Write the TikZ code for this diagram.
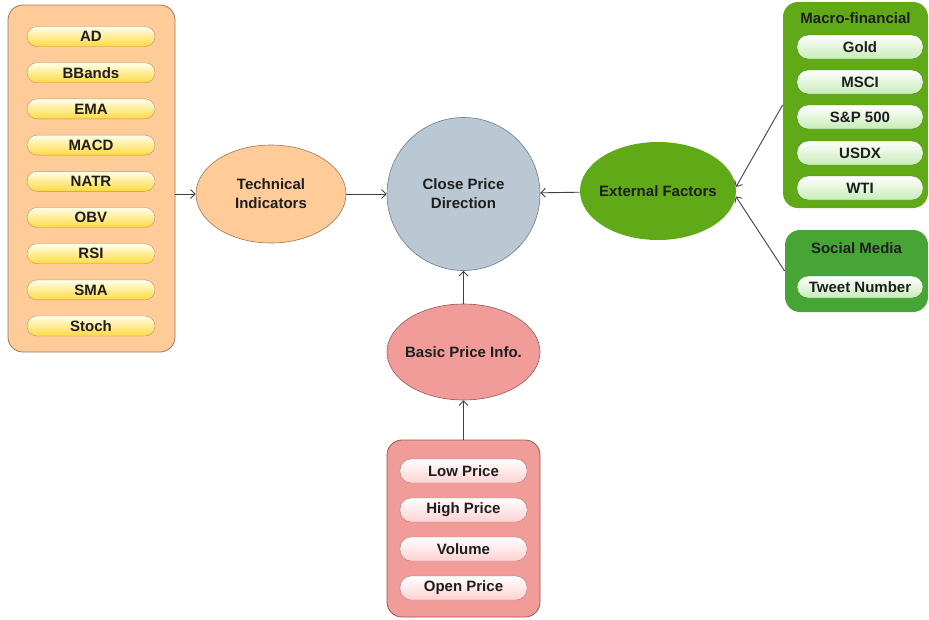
\documentclass[tikz,border=0pt]{standalone}
\usepackage{fontspec}
\setmainfont{Liberation Sans}
\usetikzlibrary{shapes.geometric,arrows.meta}

\definecolor{peach}{HTML}{FFCC99}
\definecolor{peachline}{HTML}{9C7656}
\definecolor{rosefill}{HTML}{F19C99}
\definecolor{roseline}{HTML}{8E5A58}
\definecolor{steel}{HTML}{BAC8D3}
\definecolor{steelline}{HTML}{6C7C88}
\definecolor{leaf}{HTML}{60A917}
\definecolor{leafdark}{HTML}{47A536}
\definecolor{leafline}{HTML}{3E8A14}
\definecolor{inkcol}{HTML}{1E1E1E}

\tikzset{
    txt/.style={font=\fontsize{15}{19}\selectfont\bfseries, text=inkcol, align=center},
    group/.style={txt, rounded corners=15pt, line width=0.8pt, inner sep=0pt},
    ypill/.style={txt, draw=peachline!80, top color=yellow!8, bottom color=yellow!60!orange!75, rounded corners=10pt, minimum width=128pt, minimum height=20pt, inner sep=0pt},
    rpill/.style={txt, draw=roseline!80, top color=white, bottom color=red!18, rounded corners=11pt, minimum width=127pt, minimum height=24pt, inner sep=0pt},
    gpill/.style={txt, draw=leafline, top color=white, bottom color=green!30!leaf!30, rounded corners=11pt, minimum width=126pt, minimum height=24pt, inner sep=0pt},
    oval/.style={txt, ellipse, line width=0.6pt, inner xsep=-5pt, inner ysep=0pt},
    arr/.style={draw=inkcol!85, line width=0.9pt, -{Straight Barb[length=4.5pt,width=9pt]}}
}

\begin{document}
\begin{tikzpicture}[x=1pt, y=-1pt]
    \useasboundingbox (0,0) rectangle (929,619);

    % technical indicators
    \node[group, draw=peachline, fill=peach, minimum width=167pt, minimum height=347pt] (tibox) at (91.5,178.5) {};
    \node[ypill] (ad) at (91,36.5) {AD};
    \node[ypill] (bbands) at (91,72.7) {BBands};
    \node[ypill] (ema) at (91,108.9) {EMA};
    \node[ypill] (macd) at (91,145.1) {MACD};
    \node[ypill] (natr) at (91,181.3) {NATR};
    \node[ypill] (obv) at (91,217.5) {OBV};
    \node[ypill] (rsi) at (91,253.7) {RSI};
    \node[ypill] (sma) at (91,289.9) {SMA};
    \node[ypill] (stoch) at (91,326) {Stoch};

    % basic price info
    \node[group, draw=roseline, fill=rosefill, minimum width=153pt, minimum height=177pt] (pbox) at (463.5,528.5) {};
    \node[rpill] (low) at (463.5,471) {Low Price};
    \node[rpill] (high) at (463.5,510) {High Price};
    \node[rpill] (vol) at (463.5,549) {Volume};
    \node[rpill] (open) at (463.5,588) {Open Price};

    % external factors
    \node[group, fill=leaf, minimum width=145pt, minimum height=206pt] (macro) at (855.5,105) {};
    \node[txt] (mtitle) at (855.5,18) {Macro-financial};
    \node[gpill] (gold) at (860,47) {Gold};
    \node[gpill] (msci) at (860,82) {MSCI};
    \node[gpill] (sp) at (860,117) {S\&P 500};
    \node[gpill] (usdx) at (860,153) {USDX};
    \node[gpill] (wti) at (860,188) {WTI};

    \node[group, fill=leafdark, minimum width=143pt, minimum height=82pt] (social) at (856.5,271) {};
    \node[txt] (stitle) at (856.5,248) {Social Media};
    \node[gpill, minimum height=22pt] (tweet) at (860,287) {Tweet Number};

    % middle
    \node[oval, draw=peachline, fill=peach, minimum width=150pt, minimum height=98pt] (tech) at (271,194) {Technical\\Indicators};
    \node[oval, circle, draw=steelline, fill=steel, minimum size=153pt] (close) at (463.5,194) {Close Price\\Direction};
    \node[oval, draw=roseline, fill=rosefill, minimum width=153pt, minimum height=96pt] (basic) at (463.5,352) {Basic Price Info.};
    \node[oval, fill=leaf, minimum width=156pt, minimum height=98pt] (ext) at (658,191) {External Factors};

    \draw[arr] (tibox.east |- tech) -- (tech.west);
    \draw[arr] (tech) -- (close);
    \draw[arr] (ext) -- (close);
    \draw[arr] (basic) -- (close);
    \draw[arr] (pbox) -- (basic);
    \draw[arr] (macro.west) -- (ext.3);
    \draw[arr] (social.west) -- (ext.-4);
\end{tikzpicture}
\end{document}
